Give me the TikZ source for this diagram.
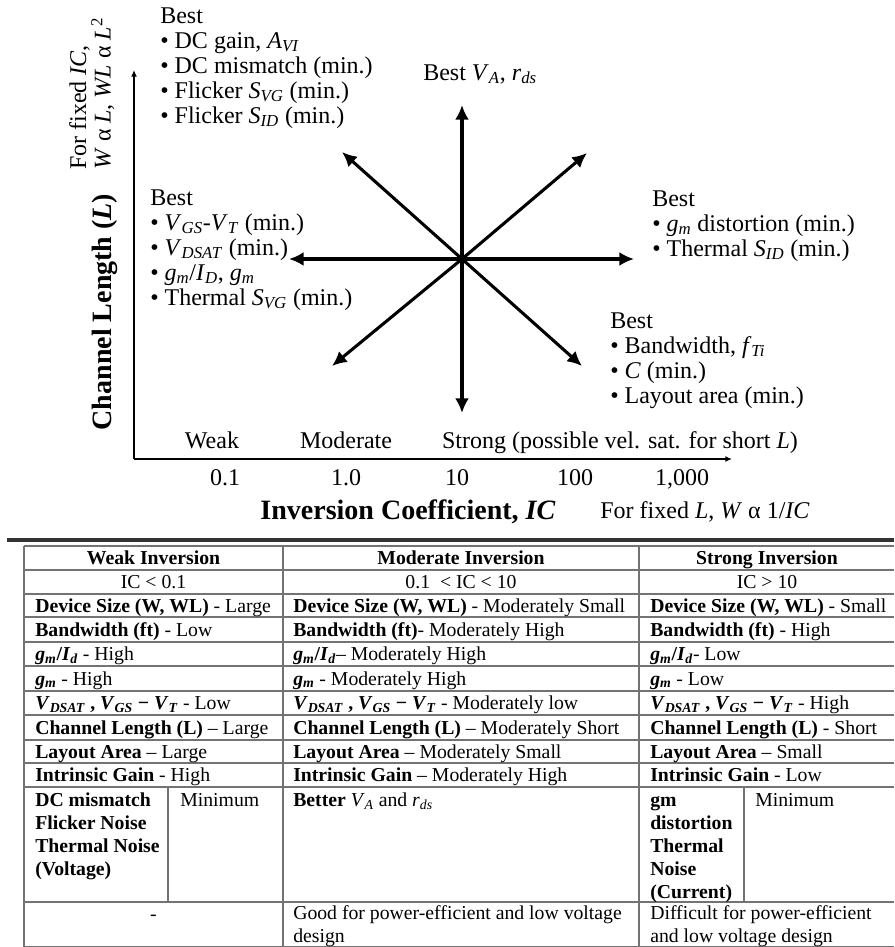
\documentclass[tikz,border=0pt]{standalone}
\usepackage{fontspec}
\setmainfont{Liberation Serif}
\usepackage{tikz}
\usetikzlibrary{arrows.meta}

\newcommand{\isub}[2]{\textit{#1}\textsubscript{\textit{#2}}}
\newcommand{\dfont}{\fontsize{18}{18.75}\selectfont}
\newcommand{\tfont}{\fontsize{14.8}{17.25}\selectfont}
\newcommand{\bigfont}{\fontsize{21}{21}\selectfont\bfseries}

\begin{document}
\begin{tikzpicture}[x=0.75pt,y=-0.75pt]
\tikzset{txt/.style={inner sep=0pt,font=\dfont,anchor=base},
  best/.style={inner sep=0pt,font=\dfont,anchor=base west,align=left},
  cell/.style={inner sep=0pt,font=\tfont,anchor=base west},
  mid/.style={inner sep=0pt,font=\tfont,anchor=base},
  head/.style={mid,font=\tfont\bfseries},
  ray/.style={line width=2.3pt,-{Latex[length=11pt,width=10.5pt]}},
  axis/.style={line width=1.1pt,-{Latex[length=5pt,width=4.5pt]}},
  grid/.style={draw=black!55,line width=0.8pt}}
\useasboundingbox (0,0) rectangle (894,947);

% axes
\coordinate (o) at (134,459);
\coordinate (ytop) at (134,70);
\coordinate (xend) at (732,459);
\path (o) edge [axis] (ytop)
      (o) edge [axis] (xend);

% star of arrows
\coordinate (c) at (462,259);
\coordinate (up) at (462,105);
\coordinate (dn) at (462,413);
\coordinate (lf) at (289,259);
\coordinate (rt) at (634,259);
\coordinate (nw) at (342,152);
\coordinate (ne) at (587,153);
\coordinate (sw) at (332,366);
\coordinate (se) at (582,366);
\path
(c) edge [ray] (up)
(c) edge [ray] (dn)
(c) edge [ray] (lf)
(c) edge [ray] (rt)
(c) edge [ray] (nw)
(c) edge [ray] (ne)
(c) edge [ray] (sw)
(c) edge [ray] (se);

% labels round the star (base = last line)
\node (tl) at (160,123) [best] {Best\\ \textbullet\ DC gain, \isub{A}{VI}\\ \textbullet\ DC mismatch (min.)\\ \textbullet\ Flicker \isub{S}{VG} (min.)\\ \textbullet\ Flicker \isub{S}{ID} (min.)};
\node (top) at (423,80) [best] {Best \isub{V}{A}, \isub{r}{ds}};
\node (left) at (150,305) [best] {Best\\ \textbullet\ \isub{V}{GS}-\isub{V}{T} (min.)\\ \textbullet\ \isub{V}{DSAT} (min.)\\ \textbullet\ \isub{g}{m}/\isub{I}{D}, \isub{g}{m}\\ \textbullet\ Thermal \isub{S}{VG} (min.)};
\node (right) at (652,256) [best] {Best\\ \textbullet\ \isub{g}{m} distortion (min.)\\ \textbullet\ Thermal \isub{S}{ID} (min.)};
\node (lowr) at (610,403) [best] {Best\\ \textbullet\ Bandwidth, \isub{f}{Ti}\\ \textbullet\ \textit{C} (min.)\\ \textbullet\ Layout area (min.)};

% axis texts
\node (fixic) at (69,170) [inner sep=0pt,font=\fontsize{18}{16.5}\selectfont,rotate=90,anchor=north west,align=left] {For fixed \textit{IC},\\ \textit{W} α \textit{L}, \textit{WL} α \textit{L}\textsuperscript{2}};
\node (ylab) at (105,312) [inner sep=0pt,font=\bigfont,rotate=90] {Channel Length (\textit{L})};
\node (weak) at (212,448) [txt] {Weak};
\node (mod) at (346,448) [txt] {Moderate};
\node (strong) at (620,448) [txt] {Strong (possible vel. sat. for short \textit{L})};
\node (t1) at (225,485) [txt] {0.1};
\node (t2) at (346,485) [txt] {1.0};
\node (t3) at (457,485) [txt] {10};
\node (t4) at (575,485) [txt] {100};
\node (t5) at (682,485) [txt] {1,000};
\node (xlab) at (408,519) [inner sep=0pt,font=\bigfont,anchor=base] {Inversion Coefficient, \textit{IC}};
\node (fixl) at (705,518) [txt] {For fixed \textit{L}, \textit{W} α 1/\textit{IC}};

\draw [line width=2.4pt,black!80] (7,540) -- (894,540);

% table
\foreach \y in {546,570,594,617,642,666,691,715,740,763,787,902,947}
  \draw [grid] (24,\y) -- (894,\y);
\foreach \x in {24,283,639}
  \draw [grid] (\x,546) -- (\x,947);
\draw [grid] (168,787) -- (168,902);
\draw [grid] (744,787) -- (744,902);

\node (w1) at (153.5,564.5) [head] {Weak Inversion};
\node (m1) at (461,564.5) [head] {Moderate Inversion};
\node (s1) at (767,564.5) [head] {Strong Inversion};
\node (w2) at (153.5,588.5) [mid] {IC < 0.1};
\node (m2) at (461,588.5) [mid] {0.1 \ < IC < 10};
\node (s2) at (767,588.5) [mid] {IC > 10};
\node (w3) at (35,612) [cell] {\textbf{Device Size (W, WL)} - Large};
\node (m3) at (293,612) [cell] {\textbf{Device Size (W, WL)} - Moderately Small};
\node (s3) at (650,612) [cell] {\textbf{Device Size (W, WL)} - Small};
\node (w4) at (35,636) [cell] {\textbf{Bandwidth (ft)} - Low};
\node (m4) at (293,636) [cell] {\textbf{Bandwidth (ft)}- Moderately High};
\node (s4) at (650,636) [cell] {\textbf{Bandwidth (ft)} - High};
\node (w5) at (35,660.5) [cell] {\textbf{\isub{g}{m}/\isub{I}{d}} - High};
\node (m5) at (293,660.5) [cell] {\textbf{\isub{g}{m}/\isub{I}{d}}– Moderately High};
\node (s5) at (650,660.5) [cell] {\textbf{\isub{g}{m}/\isub{I}{d}}- Low};
\node (w6) at (35,685) [cell] {\textbf{\isub{g}{m}} - High};
\node (m6) at (293,685) [cell] {\textbf{\isub{g}{m}} - Moderately High};
\node (s6) at (650,685) [cell] {\textbf{\isub{g}{m}} - Low};
\node (w7) at (35,709.5) [cell] {\textbf{\isub{V}{DSAT} , \isub{V}{GS} − \isub{V}{T}} - Low};
\node (m7) at (293,709.5) [cell] {\textbf{\isub{V}{DSAT} , \isub{V}{GS} − \isub{V}{T}} - Moderately low};
\node (s7) at (650,709.5) [cell] {\textbf{\isub{V}{DSAT} , \isub{V}{GS} − \isub{V}{T}} - High};
\node (w8) at (35,734) [cell] {\textbf{Channel Length (L)} – Large};
\node (m8) at (293,734) [cell] {\textbf{Channel Length (L)} – Moderately Short};
\node (s8) at (650,734) [cell] {\textbf{Channel Length (L)} - Short};
\node (w9) at (35,758) [cell] {\textbf{Layout Area} – Large};
\node (m9) at (293,758) [cell] {\textbf{Layout Area} – Moderately Small};
\node (s9) at (650,758) [cell] {\textbf{Layout Area} – Small};
\node (w10) at (35,781.5) [cell] {\textbf{Intrinsic Gain} - High};
\node (m10) at (293,781.5) [cell] {\textbf{Intrinsic Gain} – Moderately High};
\node (s10) at (650,781.5) [cell] {\textbf{Intrinsic Gain} - Low};
\node (w11) at (35,875.5) [cell,align=left] {\textbf{DC mismatch}\\ \textbf{Flicker Noise}\\ \textbf{Thermal Noise}\\ \textbf{(Voltage)}};
\node (w11b) at (180,806.5) [cell] {Minimum};
\node (m11) at (293,806.5) [cell] {\textbf{Better} \isub{V}{A} and \isub{r}{ds}};
\node (s11) at (650,898.5) [cell,align=left] {\textbf{gm}\\ \textbf{distortion}\\ \textbf{Thermal}\\ \textbf{Noise}\\ \textbf{(Current)}};
\node (s11b) at (755,806.5) [cell] {Minimum};
\node (w12) at (153.5,920) [mid] {-};
\node (m12) at (293,942.5) [cell,align=left] {Good for power-efficient and low voltage\\ design};
\node (s12) at (650,942.5) [cell,align=left] {Difficult for power-efficient\\ and low voltage design};
\end{tikzpicture}
\end{document}
